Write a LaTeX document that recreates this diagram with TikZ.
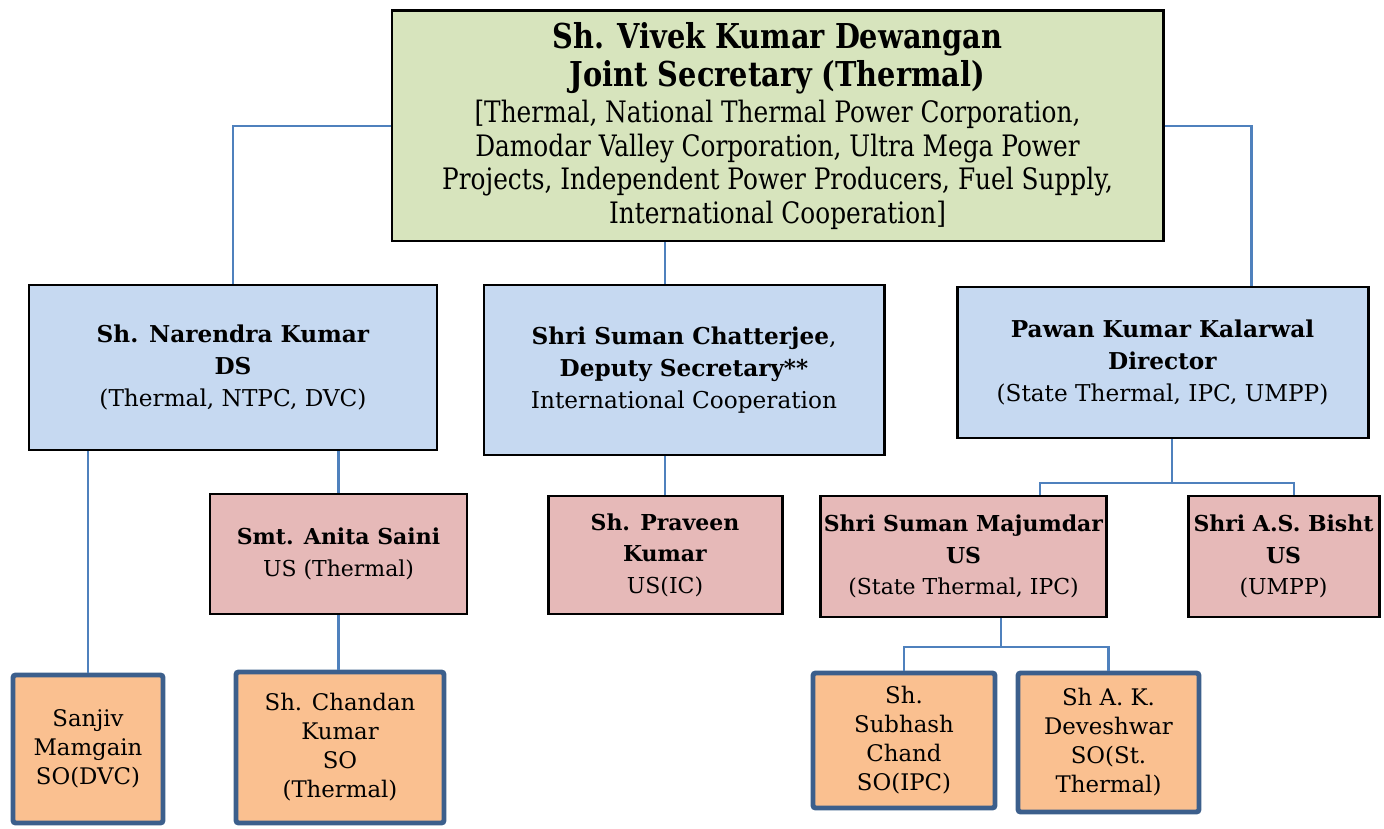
\documentclass[tikz,border=0pt]{standalone}
\usepackage{fontspec}
\setmainfont{DejaVu Serif}
\newfontfamily\narrowfont{DejaVu Serif}[FakeStretch=0.84]
\usepackage{tikz}
\usetikzlibrary{positioning,calc}
\definecolor{headgreen}{HTML}{D7E4BD}
\definecolor{dsblue}{HTML}{C6D9F1}
\definecolor{uspink}{HTML}{E6B9B8}
\definecolor{soorange}{HTML}{FAC090}
\definecolor{linkblue}{HTML}{4F81BD}
\definecolor{sorim}{HTML}{3C5F8C}
\newcommand{\headline}[1]{{\fontsize{19.5}{21.6}\selectfont\bfseries #1}}

\begin{document}
\begin{tikzpicture}[
  post/.style={draw=black,line width=1.7pt,align=center,inner sep=2pt,
    font=\fontsize{12.5}{18}\selectfont},
  js/.style={post,fill=headgreen,font=\narrowfont\fontsize{16.8}{19}\selectfont},
  ds/.style={post,fill=dsblue,font=\fontsize{13.2}{18}\selectfont},
  us/.style={post,fill=uspink},
  so/.style={post,fill=soorange,draw=sorim,line width=2.8pt,rounded corners=1.5pt,
    font=\fontsize{13}{16.5}\selectfont},
  link/.style={draw=linkblue,line width=1.3pt}]
  \useasboundingbox (0,0) rectangle (27.68,-16.58);
  % head of the wing
  \node[js,minimum width=15.42cm,minimum height=4.6cm] (top) at (15.55,-2.52)
    {\headline{Sh. Vivek Kumar Dewangan}\\[1.5pt]
     \headline{Joint Secretary (Thermal)}\\[1.5pt]
     {[}Thermal, National Thermal Power Corporation,\\
     Damodar Valley Corporation, Ultra Mega Power\\
     Projects, Independent Power Producers, Fuel Supply,\\
     International Cooperation{]}};
  % deputy secretaries / director
  \node[ds,minimum width=8.16cm,minimum height=3.3cm] (narendra) at (4.66,-7.35)
    {\textbf{Sh. Narendra Kumar}\\ \textbf{DS}\\ (Thermal, NTPC, DVC)};
  \node[ds,minimum width=8.0cm,minimum height=3.4cm] (chatterjee) at (13.68,-7.40)
    {\textbf{Shri Suman Chatterjee}, \\ \textbf{Deputy Secretary**}\\ International Cooperation};
  \node[ds,minimum width=8.22cm,minimum height=3.02cm] (pawan) at (23.25,-7.25)
    {\textbf{Pawan Kumar Kalarwal}\\ \textbf{Director}\\ (State Thermal, IPC, UMPP)};
  % under secretaries
  \node[us,minimum width=5.14cm,minimum height=2.4cm] (anita) at (6.77,-11.08)
    {\textbf{Smt. Anita Saini}\\ US (Thermal)};
  \node[us,minimum width=4.68cm,minimum height=2.36cm] (praveen) at (13.30,-11.10)
    {\textbf{Sh. Praveen}\\ \textbf{Kumar}\\ US(IC)};
  \node[us,minimum width=5.06cm,minimum height=2.42cm] (majumdar) at (19.27,-11.13)
    {\textbf{Shri Suman Majumdar}\\ \textbf{US}\\ (State Thermal, IPC)};
  \node[us,minimum width=3.82cm,minimum height=2.42cm] (bisht) at (25.67,-11.13)
    {\textbf{Shri A.S. Bisht}\\ \textbf{US}\\ (UMPP)};
  % section officers
  \node[so,minimum width=3.0cm,minimum height=2.96cm] (sanjiv) at (1.76,-14.98)
    {Sanjiv\\ Mamgain\\ SO(DVC)};
  \node[so,minimum width=4.16cm,minimum height=3.02cm] (chandan) at (6.80,-14.95)
    {Sh. Chandan\\ Kumar\\ SO\\ (Thermal)};
  \node[so,minimum width=3.64cm,minimum height=2.7cm] (subhash) at (18.08,-14.81)
    {Sh.\\ Subhash\\ Chand\\ SO(IPC)};
  \node[so,minimum width=3.62cm,minimum height=2.78cm] (deveshwar) at (22.17,-14.85)
    {Sh A. K.\\ Deveshwar\\ SO(St.\\ Thermal)};
  % connectors
  \coordinate (pj) at (23.44,-9.66);
  \coordinate (mj) at (20.02,-12.94);
  \draw[link] (top.west) -| (narendra.north);
  \draw[link] (top.east) -| ([xshift=1.78cm]pawan.north);
  \draw[link] (top.south -| praveen.north) -- (chatterjee.north -| praveen.north);
  \draw[link] (narendra.south -| sanjiv.north) -- (sanjiv.north);
  \draw[link] (narendra.south -| anita.north) -- (anita.north);
  \draw[link] (anita.south) -- (anita.south |- chandan.north);
  \draw[link] (chatterjee.south -| praveen.north) -- (praveen.north);
  \draw[link] (pawan.south -| pj) -- (pj);
  \draw[link] ([xshift=1.53cm]majumdar.north) |- (pj) -| ([xshift=0.21cm]bisht.north);
  \draw[link] (majumdar.south -| mj) -- (mj);
  \draw[link] (subhash.north) |- (mj) -| (deveshwar.north);
\end{tikzpicture}
\end{document}
